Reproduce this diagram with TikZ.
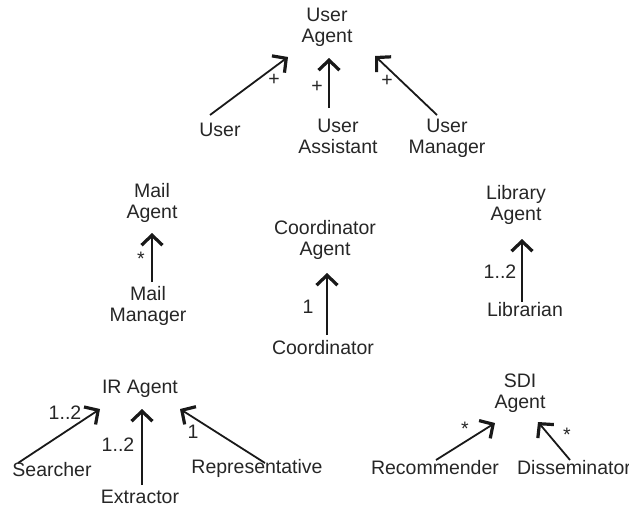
\documentclass[tikz,border=0pt]{standalone}
\usepackage{fontspec}
\setmainfont{Liberation Sans}
\usetikzlibrary{arrows.meta}
\begin{document}
\begin{tikzpicture}[x=1pt,y=-1pt,
  lbl/.style={font=\fontsize{19.5}{21}\selectfont, text=black!85, inner sep=0pt, align=center},
  mult/.style={lbl},
  assoc/.style={line width=1.8pt, black!90,
    -{Straight Barb[length=10pt,width=21pt,line width=3.2pt]}}]
\useasboundingbox (0,0) rectangle (629,509);

% agents
\node[lbl] (ua)   at (327,27)  {User\\Agent};
\node[lbl] (ma)   at (152,203) {Mail\\Agent};
\node[lbl] (ca)   at (325,240) {Coordinator\\Agent};
\node[lbl] (la)   at (516,205) {Library\\Agent};
\node[lbl] (ira)  at (140,389) {IR Agent};
\node[lbl] (sdi)  at (520,393) {SDI\\Agent};

% roles
\node[lbl] (user)  at (220,130) {User};
\node[lbl] (uasst) at (338,136) {User\\Assistant};
\node[lbl] (umgr)  at (447,138) {User\\Manager};
\node[lbl] (mmgr)  at (148,306) {Mail\\Manager};
\node[lbl] (coord) at (323,348) {Coordinator};
\node[lbl] (libr)  at (525,310) {Librarian};
\node[lbl] (srch)  at (52,470)  {Searcher};
\node[lbl] (extr)  at (140,497) {Extractor};
\node[lbl] (repr)  at (257,468) {Representative};
\node[lbl] (rec)   at (435,468) {Recommender};
\node[lbl] (diss)  at (574,468) {Disseminator};

% associations
\draw[assoc] ([shift={(-10,-15)}]user.center)  -- ([shift={(-39,30)}]ua.center);
\draw[assoc] ([shift={(-9,-28)}]uasst.center)  -- ([shift={(2,31)}]ua.center);
\draw[assoc] ([shift={(-10,-23)}]umgr.center)  -- ([shift={(48,29)}]ua.center);
\draw[assoc] ([shift={(4,-24)}]mmgr.center)    -- ([shift={(0,30)}]ma.center);
\draw[assoc] ([shift={(4,-13)}]coord.center)   -- ([shift={(2,33)}]ca.center);
\draw[assoc] ([shift={(-3,-8)}]libr.center)    -- ([shift={(6,34)}]la.center);
\draw[assoc] ([shift={(-34,-7)}]srch.center)   -- ([shift={(-40,20)}]ira.center);
\draw[assoc] ([shift={(2,-12)}]extr.center)    -- ([shift={(2,20)}]ira.center);
\draw[assoc] ([shift={(8,-5)}]repr.center)     -- ([shift={(40,20)}]ira.center);
\draw[assoc] ([shift={(1,-8)}]rec.center)      -- ([shift={(-25,30)}]sdi.center);
\draw[assoc] ([shift={(-4,-8)}]diss.center)    -- ([shift={(18,29)}]sdi.center);

% multiplicities
\node[mult] (m1)  at (274,80)  {+};
\node[mult] (m2)  at (317,87)  {+};
\node[mult] (m3)  at (387,81)  {+};
\node[mult] (m4)  at (141,259) {*};
\node[mult] (m5)  at (308,307) {1};
\node[mult] (m6)  at (500,272) {1..2};
\node[mult] (m7)  at (65,413)  {1..2};
\node[mult] (m8)  at (118,445) {1..2};
\node[mult] (m9)  at (193,432) {1};
\node[mult] (m10) at (465,429) {*};
\node[mult] (m11) at (567,435) {*};
\end{tikzpicture}
\end{document}
